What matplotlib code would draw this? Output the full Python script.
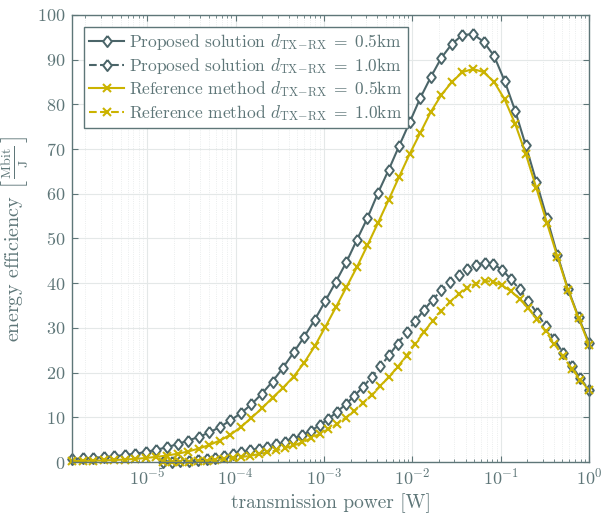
import numpy as np
import matplotlib
matplotlib.use("Agg")
import matplotlib.pyplot as plt
from matplotlib.ticker import FixedLocator, NullFormatter

plt.rcParams["font.family"] = "serif"
plt.rcParams["font.serif"] = ["cmr10"]
plt.rcParams["mathtext.fontset"] = "cm"
plt.rcParams["axes.formatter.use_mathtext"] = True
plt.rcParams["axes.unicode_minus"] = False

# transmission power grids (exponents of 10 W), 50 points each
p_05 = np.logspace(-5.85, 0, 50)
p_10 = np.logspace(-4.82, 0, 50)

# energy efficiency in Mbit/J
prop_05 = [0.7, 0.8, 0.95, 1.1, 1.3, 1.55, 1.85, 2.25, 2.75, 3.3,
           4.0, 4.8, 5.6, 6.6, 7.8, 9.3, 10.9, 12.9, 15.3, 18.0,
           21.1, 24.5, 28.0, 31.8, 36.0, 40.3, 44.7, 49.7, 54.6, 60.2,
           65.3, 70.7, 76.0, 81.4, 86.1, 90.4, 93.5, 95.5, 95.7, 94.0,
           90.8, 85.2, 78.5, 70.8, 62.7, 54.6, 46.3, 38.7, 32.4, 26.6]
prop_10 = [0.05, 0.1, 0.2, 0.3, 0.4, 0.6, 0.9, 1.3, 1.75, 2.2,
           2.6, 3.0, 3.45, 3.95, 4.55, 5.25, 6.05, 7.0, 8.2, 9.6,
           11.2, 12.9, 14.8, 16.8, 19.0, 21.4, 23.9, 26.5, 29.0, 31.5,
           34.0, 36.3, 38.4, 40.3, 41.9, 43.2, 44.1, 44.6, 44.2, 43.0,
           40.9, 38.6, 36.1, 33.3, 30.4, 27.4, 24.4, 21.5, 18.7, 16.1]
ref_05 = [0.2, 0.25, 0.3, 0.35, 0.45, 0.55, 0.7, 0.9, 1.15, 1.45,
          1.85, 2.35, 3.0, 3.8, 4.8, 6.1, 7.8, 9.9, 12.0, 14.4,
          16.6, 19.1, 22.2, 25.9, 30.2, 34.6, 39.1, 43.6, 48.5, 53.5,
          58.6, 63.8, 68.9, 73.6, 78.3, 82.1, 85.0, 87.2, 87.9, 87.2,
          85.0, 81.1, 75.6, 68.9, 61.3, 53.5, 45.9, 38.5, 32.2, 26.2]
ref_10 = [0.0, 0.0, 0.05, 0.1, 0.2, 0.3, 0.45, 0.65, 0.85, 1.1,
          1.4, 1.75, 2.15, 2.6, 3.1, 3.7, 4.4, 5.3, 6.3, 7.3,
          8.5, 9.9, 11.4, 13.2, 15.0, 17.0, 19.1, 21.3, 23.8, 26.4,
          29.1, 31.5, 33.7, 35.8, 37.5, 38.9, 39.9, 40.5, 40.3, 39.5,
          38.2, 36.5, 34.4, 31.9, 29.2, 26.5, 23.6, 20.9, 18.4, 16.0]

x_ticks = [1e-5, 1e-4, 1e-3, 1e-2, 1e-1, 1e0]
y_ticks = list(range(0, 101, 10))

c_prop = "#4b6569"
c_ref = "#cbb300"
c_axis = "#5e7678"

# slightly taller than wide diamond
diamond = [(0, 1), (0.78, 0), (0, -1), (-0.78, 0), (0, 1)]

fig = plt.figure(figsize=(6.13, 5.13), dpi=100)
ax = fig.add_axes([0.1175, 0.0994, 0.8435, 0.8716])

kw = dict(linewidth=1.5, clip_on=False)
dist = r"$d_{\mathrm{TX}\!-\!\mathrm{RX}}\;=\;%s\mathrm{km}$"
ax.plot(p_05, prop_05, "-", color=c_prop, marker=diamond, ms=8, mfc="white", mew=1.4,
        label="Proposed solution " + dist % "0.5", **kw)
ax.plot(p_10, prop_10, "--", color=c_prop, marker=diamond, ms=8, mfc="white", mew=1.4,
        label="Proposed solution " + dist % "1.0", **kw)
ax.plot(p_05, ref_05, "-", color=c_ref, marker="x", ms=6, mew=1.5,
        label="Reference method " + dist % "0.5", **kw)
ax.plot(p_10, ref_10, "--", color=c_ref, marker="x", ms=6, mew=1.5,
        label="Reference method " + dist % "1.0", **kw)

ax.set_xscale("log")
ax.set_xlim(10 ** -5.85, 1)
ax.set_ylim(0, 100)
ax.set_yticks(y_ticks)
ax.set_xticks(x_ticks)
minors = [m * 10.0 ** e for e in range(-6, 0) for m in range(2, 10)]
ax.xaxis.set_minor_locator(FixedLocator([v for v in minors if v > 10 ** -5.85]))
ax.xaxis.set_minor_formatter(NullFormatter())

ax.grid(True, which="major", color="#e4e8e8", linewidth=0.8)
ax.grid(True, which="minor", axis="x", color="#e4e8e8", linewidth=0.6, linestyle=":")
ax.set_axisbelow(True)

for s in ax.spines.values():
    s.set_color(c_axis)
    s.set_linewidth(1.0)
ax.tick_params(which="both", direction="in", top=True, right=True,
               colors=c_axis, labelsize=13)
ax.tick_params(which="major", length=4)
ax.tick_params(which="minor", length=2)
ax.tick_params(axis="y", pad=5)

ax.set_xlabel("transmission power [W]", fontsize=14, color=c_axis)
ax.set_ylabel(r"energy efficiency $\left[\,\frac{\mathrm{Mbit}}{\mathrm{J}}\,\right]$",
              fontsize=14.5, color=c_axis, labelpad=5)

leg = ax.legend(loc="upper left", fontsize=12.5, fancybox=False, framealpha=1,
                edgecolor=c_axis, borderpad=0.3, labelspacing=0.2,
                handletextpad=0.3, borderaxespad=0.7)
for t in leg.get_texts():
    t.set_color(c_axis)

fig.savefig("out.png", dpi=100)
